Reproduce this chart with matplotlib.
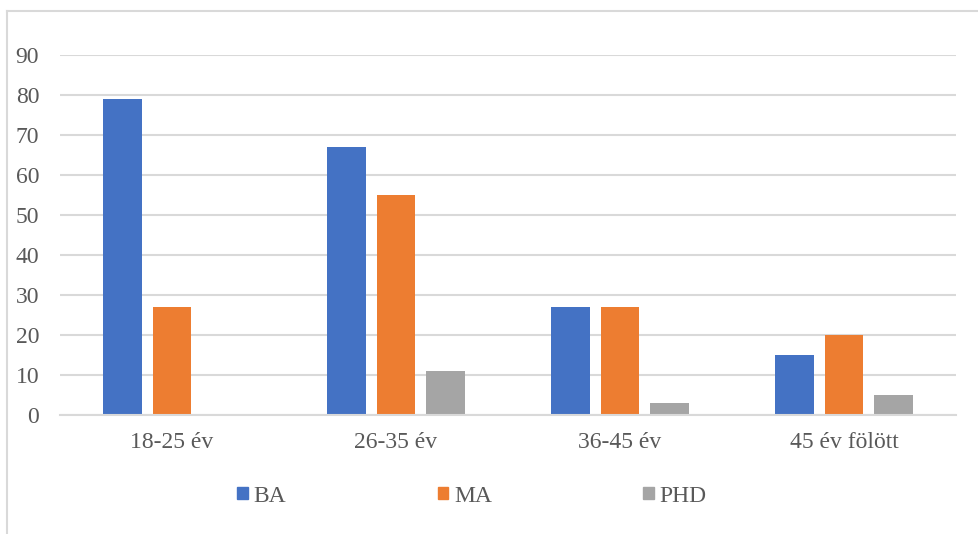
import matplotlib
matplotlib.use("Agg")
import matplotlib.pyplot as plt
import numpy as np
from matplotlib.patches import Patch
from matplotlib.lines import Line2D

categories = ["18-25 év", "26-35 év", "36-45 év", "45 év fölött"]
series_names = ["BA", "MA", "PHD"]
ba = [79, 67, 27, 15]
ma = [27, 55, 27, 20]
phd = [0, 11, 3, 5]
yticks = [0, 10, 20, 30, 40, 50, 60, 70, 80, 90]

colors = ["#4472C4", "#ED7D31", "#A5A5A5"]
text_color = "#595959"
grid_color = "#D9D9D9"

plt.rcParams['font.family'] = ['Liberation Serif', 'DejaVu Serif']

fig = plt.figure(figsize=(9.79, 5.34), dpi=100)
ax = fig.add_axes([60/979, 1-415/534, (956-60)/979, (415-55)/534])

x = np.arange(len(categories))
width = 0.174
step = 0.223
for i, (vals, c) in enumerate(zip([ba, ma, phd], colors)):
    ax.bar(x + (i-1)*step, vals, width, color=c, zorder=3, label=series_names[i])

ax.set_xlim(-0.5, len(categories)-0.5)
ax.set_ylim(0, 90)
ax.set_yticks(yticks)
ax.set_xticks(x)
ax.set_xticklabels(categories)
ax.tick_params(axis='both', length=0, labelsize=17, colors=text_color)
ax.tick_params(axis='y', pad=15)
ax.tick_params(axis='x', pad=12)
ax.yaxis.grid(True, color=grid_color, linewidth=1.5, zorder=0)
for s in ['left', 'right', 'top']:
    ax.spines[s].set_visible(False)
ax.spines['bottom'].set_color(grid_color)
ax.spines['bottom'].set_linewidth(1.5)
ax.spines['bottom'].set_zorder(4)

handles = [Patch(color=c) for c in colors]
leg = fig.legend(handles, series_names, loc='center', bbox_to_anchor=(472/979, 1-496/534),
                 ncol=3, frameon=False, fontsize=17, handlelength=0.45, handleheight=0.45,
                 handletextpad=0.25, columnspacing=6.4, labelcolor=text_color)

# outer chart border (left and top visible)
fig.add_artist(Line2D([7/979, 7/979], [0, 1-11/534], transform=fig.transFigure, color=grid_color, linewidth=1.5))
fig.add_artist(Line2D([7/979, 1], [1-11/534, 1-11/534], transform=fig.transFigure, color=grid_color, linewidth=1.5))

fig.savefig("out.png", dpi=100)
